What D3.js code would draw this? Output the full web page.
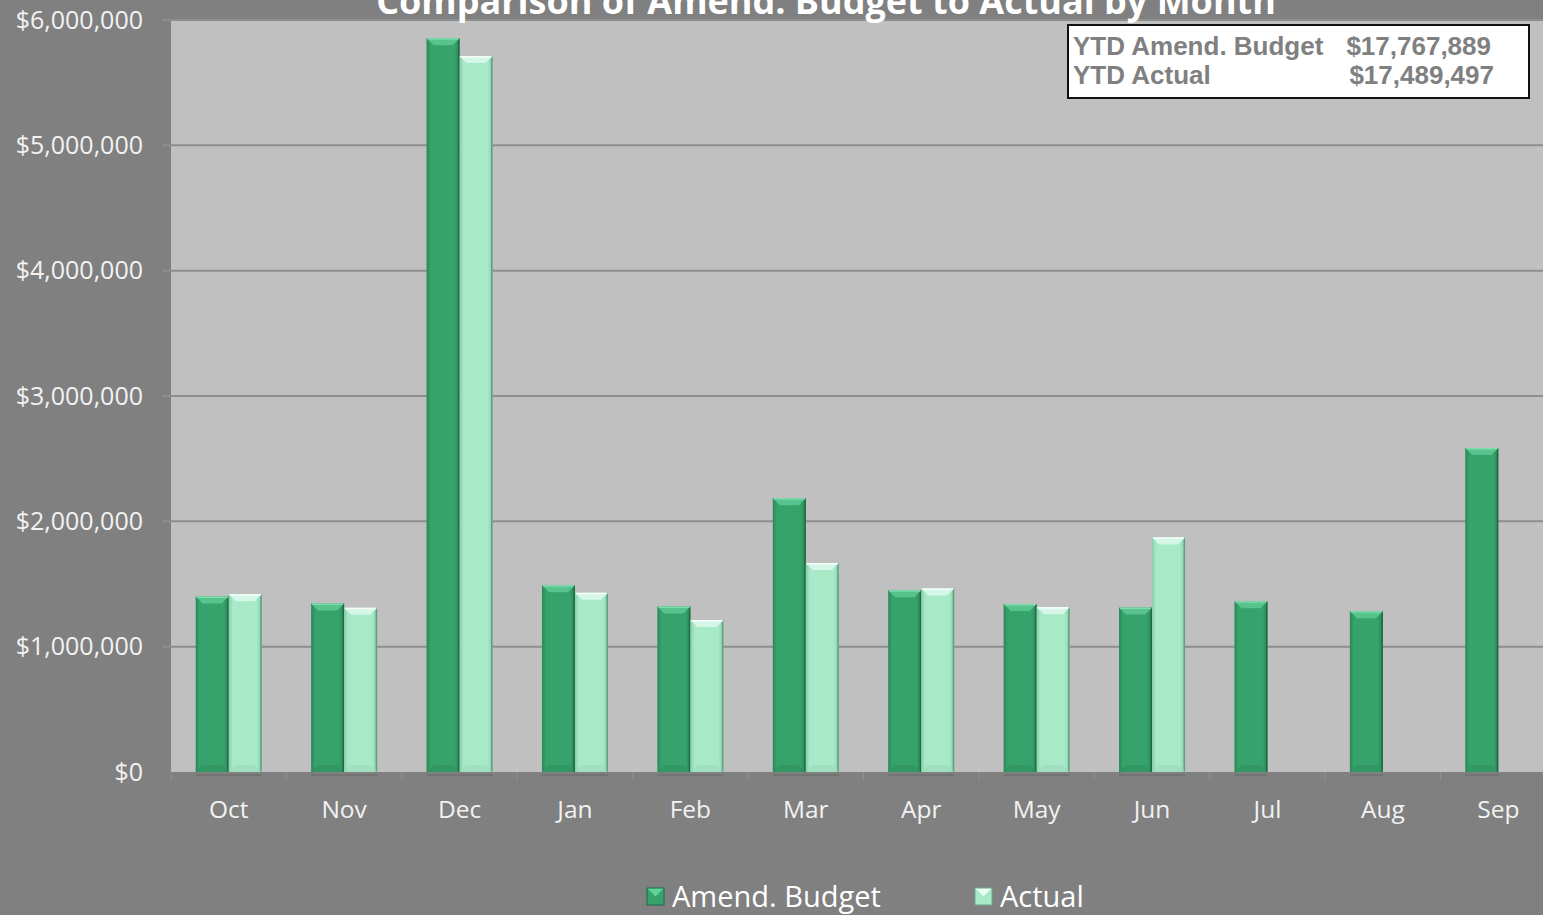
<!DOCTYPE html>
<html><head><meta charset="utf-8">
<script src="https://cdn.jsdelivr.net/npm/d3@7"></script>
<style>html,body{margin:0;padding:0;background:#808080;overflow:hidden}</style>
</head><body>
<svg id="chart" width="1543" height="915"></svg>
<script>
const months = ["Oct","Nov","Dec","Jan","Feb","Mar","Apr","May","Jun","Jul","Aug","Sep"];
const budget = [1400000,1345000,5855000,1490000,1320000,2185000,1450000,1340000,1312000,1362000,1283000,2585000];
const actual = [1418000,1310000,5712000,1430000,1212000,1668000,1465000,1315000,1872000,null,null,null];
const yTicks = [0,1000000,2000000,3000000,4000000,5000000,6000000];
const seriesNames = ["Amend. Budget","Actual"];
const ytdLabels = ["YTD Amend. Budget","YTD Actual"];
const ytdValues = ["$17,767,889","$17,489,497"];
const titleText = "Comparison of Amend. Budget to Actual by Month";

const svg = d3.select("#chart");
const W = 1543, H = 915;
const plot = {left:171, right:1556, top:20, bottom:772};

svg.append("rect").attr("width",W).attr("height",H).attr("fill","#808080");

const x = d3.scaleBand().domain(months).range([plot.left, plot.right]).padding(0);
const y = d3.scaleLinear().domain([0,6000000]).range([plot.bottom, plot.top]);
const barW = 33;

const defs = svg.append("defs");
function grad(id, edge, mid) {
  const g = defs.append("linearGradient").attr("id",id).attr("x1","0").attr("x2","1").attr("y1","0").attr("y2","0");
  g.append("stop").attr("offset","0").attr("stop-color",edge);
  g.append("stop").attr("offset","0.12").attr("stop-color",mid);
  g.append("stop").attr("offset","0.85").attr("stop-color",mid);
  g.append("stop").attr("offset","1").attr("stop-color",edge);
}
grad("gB","#2a8656","#36a26c");
grad("gA","#86cfa9","#a8e9c8");

// plot background
svg.append("rect").attr("x",plot.left).attr("y",plot.top)
  .attr("width",W-plot.left).attr("height",plot.bottom-plot.top).attr("fill","#c0c0c0");

// gridlines
svg.append("g").selectAll("line").data(yTicks.filter(d=>d>0)).join("line")
  .attr("x1",plot.left-9).attr("x2",W)
  .attr("y1",d=>y(d)).attr("y2",d=>y(d))
  .attr("stroke","#8e8e8e").attr("stroke-width",2);

// y axis labels
const yAxis = d3.axisLeft(y).tickValues(yTicks).tickSize(0).tickPadding(0)
  .tickFormat(d=>"$"+d3.format(",")(d));
const ya = svg.append("g").attr("transform",`translate(${plot.left-28},0)`).call(yAxis);
ya.select(".domain").remove();
ya.selectAll("text").attr("fill","#f2f2f2").attr("font-family","Open Sans, sans-serif")
  .attr("font-size",25).attr("dy","0.32em");

// x axis
const xAxis = d3.axisBottom(x).tickSize(0).tickPadding(0);
const xa = svg.append("g").attr("transform",`translate(0,${plot.bottom+37})`).call(xAxis);
xa.select(".domain").remove();
xa.selectAll("text").attr("fill","#f2f2f2").attr("font-family","Open Sans, sans-serif")
  .attr("font-size",24.5).attr("dy","0.35em");
// category tick marks
svg.append("g").selectAll("line").data(months).join("line")
  .attr("x1",d=>x(d)).attr("x2",d=>x(d))
  .attr("y1",plot.bottom).attr("y2",plot.bottom+8)
  .attr("stroke","#8f8f8f").attr("stroke-width",1);

function drawBars(vals, offset, fillId, topC, topEdge, botC, sideC, shadowC) {
  const data = months.map((m,i)=>({m, v: vals[i]})).filter(d=>d.v!=null);
  const g = svg.append("g");
  const groups = g.selectAll("g").data(data).join("g");
  const bx = d => x(d.m) + x.bandwidth()/2 + offset;
  // shadow under bar
  groups.append("rect").attr("x",d=>bx(d)).attr("y",plot.bottom+2)
    .attr("width",barW).attr("height",2).attr("fill","#6a6a6a").attr("opacity",0.6);
  groups.append("rect").attr("x",d=>bx(d)).attr("y",d=>y(d.v))
    .attr("width",barW).attr("height",d=>plot.bottom-y(d.v)).attr("fill",`url(#${fillId})`);
  // right shadow edge
  groups.append("rect").attr("x",d=>bx(d)+barW-1.5).attr("y",d=>y(d.v))
    .attr("width",1.5).attr("height",d=>plot.bottom-y(d.v)).attr("fill",shadowC);
  const b = 7;
  // top bevel
  groups.append("path").attr("d",d=>{
    const x0=bx(d), x1=bx(d)+barW, t=y(d.v);
    return `M${x0},${t}L${x1},${t}L${x1-b},${t+b}L${x0+b},${t+b}Z`;
  }).attr("fill",topC);
  groups.append("rect").attr("x",d=>bx(d)+1).attr("y",d=>y(d.v))
    .attr("width",barW-2).attr("height",1.5).attr("fill",topEdge);
  // bottom bevel
  groups.append("path").attr("d",d=>{
    const x0=bx(d), x1=bx(d)+barW, t=plot.bottom;
    return `M${x0},${t}L${x1},${t}L${x1-b},${t-b}L${x0+b},${t-b}Z`;
  }).attr("fill",botC).attr("opacity",0.6);
}
drawBars(budget, -barW, "gB", "#58c38d", "#7fdcad", "#2f8f5e", "#2a8656", "#1f6a43");
drawBars(actual, 0, "gA", "#d6f7e7", "#f4fffa", "#9bd9ba", "#86cfa9", "#5f9f80");

// title (cut off at the top edge, as in the reference)
svg.append("text").attr("x",826).attr("y",14).attr("text-anchor","middle")
  .attr("fill","#ffffff").attr("font-family","Open Sans, sans-serif").attr("font-weight","bold")
  .attr("font-size",36).text(titleText);

// YTD box
svg.append("rect").attr("x",1068).attr("y",25).attr("width",461).attr("height",73)
  .attr("fill","#ffffff").attr("stroke","#111").attr("stroke-width",2);
const ytd = svg.append("g");
ytd.selectAll("text.l").data(ytdLabels).join("text").attr("class","l")
  .attr("x",1073).attr("y",(d,i)=>55+i*29).text(d=>d)
  .attr("fill","#808080").attr("font-family","Liberation Sans, Arial, sans-serif")
  .attr("font-weight","bold").attr("font-size",26);
ytd.selectAll("text.v").data(ytdValues).join("text").attr("class","v")
  .attr("x",(d,i)=>i===0?1491:1494).attr("y",(d,i)=>55+i*29).attr("text-anchor","end").text(d=>d)
  .attr("fill","#808080").attr("font-family","Liberation Sans, Arial, sans-serif")
  .attr("font-weight","bold").attr("font-size",26);

// legend
const legX = [647, 975];
const legFill = ["#36a26c","#a8e9c8"];
const legTop = ["#5fd39a","#e8fff4"];
const lg = svg.append("g");
seriesNames.forEach((n,i)=>{
  const lx = legX[i], ly = 888;
  lg.append("rect").attr("x",lx).attr("y",ly).attr("width",17).attr("height",17).attr("fill",legFill[i]);
  lg.append("path").attr("d",`M${lx},${ly}L${lx+17},${ly}L${lx+8.5},${ly+8.5}Z`).attr("fill",legTop[i]);
  lg.append("rect").attr("x",lx).attr("y",ly).attr("width",17).attr("height",17)
    .attr("fill","none").attr("stroke",i===0?"#1f6a43":"#6aa88a").attr("stroke-width",1);
  lg.append("text").attr("x",lx+25).attr("y",ly+8.5).attr("dy","0.35em").text(n)
    .attr("fill","#ffffff").attr("font-family","Open Sans, sans-serif").attr("font-size",29);
});
</script>
</body></html>
